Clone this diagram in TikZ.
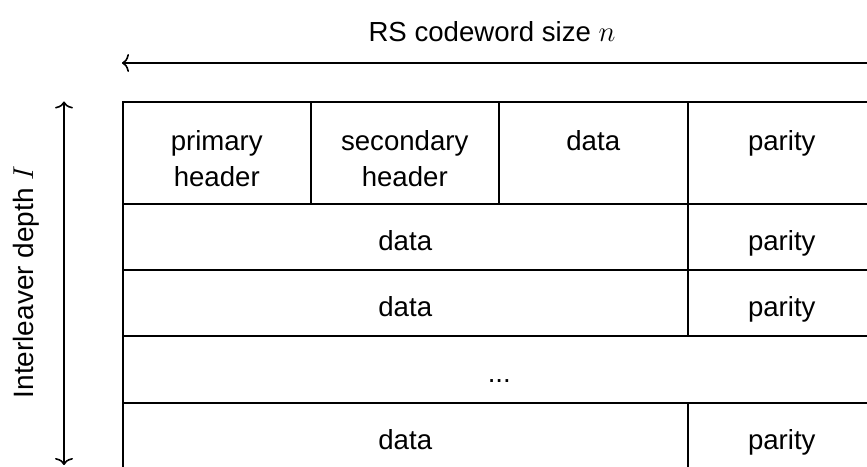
\documentclass[tikz,border=0pt]{standalone}
\usepackage{fontspec}
\setmainfont{Liberation Sans}
\usetikzlibrary{arrows.meta,calc}
\begin{document}
\begin{tikzpicture}[x=0.5pt,y=-0.5pt,
  cell/.style={draw, line width=0.75pt, inner sep=0pt, anchor=north west, minimum height=33pt},
  hcell/.style={cell, minimum width=94pt, minimum height=51pt},
  pcell/.style={cell, minimum width=94pt},
  dcell/.style={cell, minimum width=282.5pt},
  lbl/.style={font=\fontsize{13.8}{18}\selectfont, inner sep=0pt, align=center},
  arr/.style={line width=0.8pt, arrows={Computer Modern Rightarrow[width=9pt,length=3.5pt]-Computer Modern Rightarrow[width=9pt,length=3.5pt]}}]
\useasboundingbox (0,0) rectangle (867,466);
\clip (0,0) rectangle (867,466);
% header row
\node[hcell] (h1) at (122,101) {};
\node[hcell] (h2) at (310,101) {};
\node[hcell, minimum width=94.5pt] (h3) at (498,101) {};
\node[hcell] (h4) at (687,101) {};
% data rows
\node[dcell] (d2) at (122,203) {};
\node[pcell] (p2) at (687,203) {};
\node[dcell] (d3) at (122,269) {};
\node[pcell] (p3) at (687,269) {};
\node[cell, minimum width=376.5pt, minimum height=33.5pt] (e4) at (122,335) {};
\node[dcell] (d5) at (122,402) {};
\node[pcell] (p5) at (687,402) {};
% labels
\node[lbl, anchor=base] (lh1) at ($(h1.north)+(0,85)$) {primary\\header};
\node[lbl, anchor=base] (lh2) at ($(h2.north)+(0,85)$) {secondary\\header};
\node[lbl, anchor=base] (lh3) at ($(h3.north)+(0,49)$) {data};
\node[lbl, anchor=base] (lh4) at ($(h4.north)+(0,49)$) {parity};
\node[lbl, anchor=base] (ld2) at ($(d2.center)+(0,14)$) {data};
\node[lbl, anchor=base] (lp2) at ($(p2.center)+(0,14)$) {parity};
\node[lbl, anchor=base] (ld3) at ($(d3.center)+(0,14)$) {data};
\node[lbl, anchor=base] (lp3) at ($(p3.center)+(0,14)$) {parity};
\node[lbl, anchor=base] (le4) at ($(e4.center)+(0,13)$) {...};
\node[lbl, anchor=base] (ld5) at ($(d5.center)+(0,14)$) {data};
\node[lbl, anchor=base] (lp5) at ($(p5.center)+(0,14)$) {parity};
% dimension arrows
\node[lbl] (tn) at (492,32) {RS codeword size $n$};
\coordinate (aL) at (122,63);
\coordinate (aR) at (900,63);
\draw[arr, arrows={Computer Modern Rightarrow[width=9pt,length=3.5pt]-}] (aL) -- (aR);
\node[lbl, rotate=90, font=\fontsize{14}{18}\selectfont] (ti) at (26,282) {Interleaver depth $I$};
\coordinate (vT) at (64,101.5);
\coordinate (vB) at (64,465);
\draw[arr] (vT) -- (vB);
\end{tikzpicture}
\end{document}
